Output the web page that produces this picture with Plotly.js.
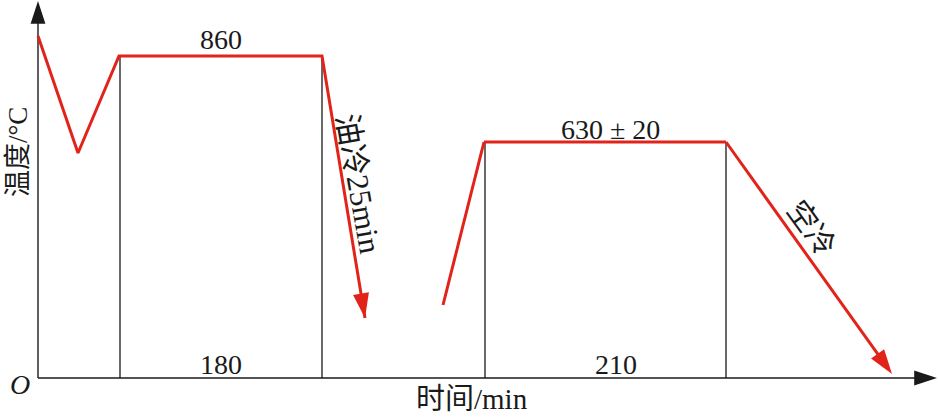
<!DOCTYPE html>
<html>
<head>
<meta charset="utf-8">
<script src="https://cdn.plot.ly/plotly-3.0.1.min.js"></script>
<style>html,body{margin:0;padding:0;background:#fff}#chart{width:938px;height:417px}</style>
</head>
<body>
<div id="chart"></div>
<script>
// Schematic process values (diagram units: time along x, temperature along y)
const quenchTime = [0, 40, 81, 284, 327];
const quenchTemp = [342, 225, 322, 322, 60];
const temperTime = [405, 446, 688, 854];
const temperTemp = [73, 236, 236, 4];
const holdLineTime = [82, 284, 447, 688];
const holdLineTemp = [322, 322, 236, 236];
const axisEnd = {x: 899, y: 377};

const labels = {
  quenchTemp: '860', quenchHold: '180', oilCool: '油冷25min',
  temperTemp: '630 ± 20', temperHold: '210', airCool: '空冷',
  origin: 'O', yTitle: '温度/°C', xTitle: '时间/min'
};

const FONT = 'Liberation Serif, Times New Roman, Noto Sans CJK SC, serif';
const RED = '#e2231a';
const BLK = '#1a1a1a';

function arrowSizes(n, s) { const a = new Array(n).fill(0); a[n-1] = s; return a; }

const traces = [];
// vertical holding lines
holdLineTime.forEach((t, i) => {
  traces.push({x: [t, t], y: [0, holdLineTemp[i]], mode: 'lines', line: {color: BLK, width: 1.3}, hoverinfo: 'skip', cliponaxis: false});
});
function arrowMarker(sizes, color) {
  return {symbol: 'arrow', angleref: 'previous', size: sizes, color: color, opacity: 1, line: {width: 0}};
}
// axes with arrows
traces.push({x: [0, axisEnd.x], y: [0, 0], mode: 'lines+markers', line: {color: BLK, width: 1.4},
  marker: arrowMarker([0, 24], BLK), cliponaxis: false});
traces.push({x: [0, 0], y: [0, axisEnd.y], mode: 'lines+markers', line: {color: BLK, width: 1.4},
  marker: arrowMarker([0, 24], BLK), cliponaxis: false});
// process curves
traces.push({x: quenchTime, y: quenchTemp, mode: 'lines+markers', line: {color: RED, width: 3},
  marker: arrowMarker(arrowSizes(quenchTime.length, 26), RED), cliponaxis: false});
traces.push({x: temperTime, y: temperTemp, mode: 'lines+markers', line: {color: RED, width: 3},
  marker: arrowMarker(arrowSizes(temperTime.length, 26), RED), cliponaxis: false});

function ann(text, x, y, extra) {
  return Object.assign({text: text, x: x, y: y, xref: 'x', yref: 'y', showarrow: false,
    font: {family: FONT, size: 28, color: BLK}, xanchor: 'center', yanchor: 'middle'}, extra || {});
}

const annotations = [
  ann(labels.quenchTemp, 183, 339),
  ann(labels.quenchHold, 183, 14),
  ann(labels.temperTemp, 572, 249),
  ann(labels.temperHold, 578, 14),
  ann(labels.oilCool, 321, 194, {textangle: 80, font: {family: FONT, size: 31, color: BLK}}),
  ann(labels.airCool, 774, 150, {textangle: 54, font: {family: FONT, size: 30, color: BLK}}),
  ann('<i>' + labels.origin + '</i>', -18, -6),
  ann(labels.yTitle, -20, 226, {textangle: -90, font: {family: FONT, size: 27, color: BLK}}),
  ann(labels.xTitle, 434, -39, {yanchor: 'bottom', font: {family: FONT, size: 29, color: BLK}})
];

const layout = {
  width: 938, height: 417,
  margin: {l: 0, r: 0, t: 0, b: 0},
  paper_bgcolor: '#fff', plot_bgcolor: '#fff',
  showlegend: false,
  xaxis: {range: [-38, 900], visible: false, fixedrange: true},
  yaxis: {range: [-39, 378], visible: false, fixedrange: true},
  annotations: annotations
};

Plotly.newPlot('chart', traces, layout, {staticPlot: true, displayModeBar: false});
</script>
</body>
</html>
